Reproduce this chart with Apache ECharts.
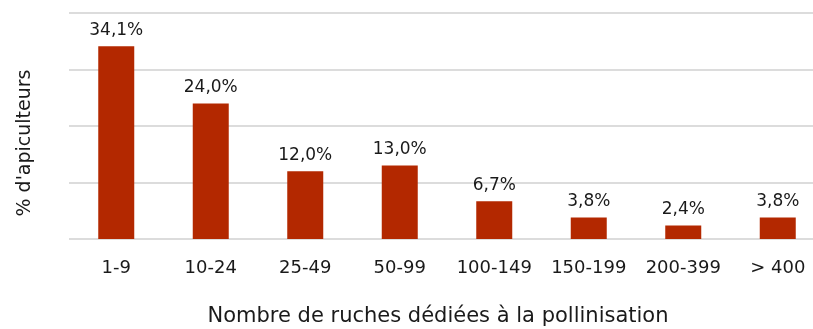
<!DOCTYPE html>
<html><head><meta charset="utf-8">
<script src="https://cdn.jsdelivr.net/npm/echarts@6/dist/echarts.min.js"></script>
<style>html,body{margin:0;padding:0;background:#fff;overflow:hidden}#c{width:813px;height:329px}</style>
</head><body><div id="c"></div>
<script>
const categories = ['1-9','10-24','25-49','50-99','100-149','150-199','200-399','> 400'];
const values = [34.1, 24.0, 12.0, 13.0, 6.7, 3.8, 2.4, 3.8];
const labels = ['34,1%','24,0%','12,0%','13,0%','6,7%','3,8%','2,4%','3,8%'];
const yTicks = [0, 10, 20, 30, 40];
const xTitle = 'Nombre de ruches dédiées à la pollinisation';
const yTitle = "% d'apiculteurs";

const font = 'DejaVu Sans';
const txt = '#1a1a1a';
const chart = echarts.init(document.getElementById('c'));
chart.setOption({
  animation: false,
  grid: {left: 69, top: 13, width: 756, height: 226, containLabel: false, outerBoundsMode: 'none'},
  xAxis: {
    type: 'category', data: categories,
    axisLine: {show: false}, axisTick: {show: false},
    axisLabel: {color: txt, fontFamily: font, fontSize: 18, margin: 20, interval: 0},
    name: xTitle, nameLocation: 'middle', nameGap: 67,
    nameTextStyle: {color: txt, fontFamily: font, fontSize: 21, padding: [0, 18, 0, 0]}
  },
  yAxis: {
    type: 'value', min: yTicks[0], max: yTicks[yTicks.length-1], interval: 10,
    axisLabel: {show: false}, axisLine: {show: false}, axisTick: {show: false},
    splitLine: {lineStyle: {color: '#dcdcdc', width: 2}},
    name: yTitle, nameLocation: 'middle', nameGap: 34,
    nameTextStyle: {color: txt, fontFamily: font, fontSize: 19, padding: [0, 34, 0, 0]}
  },
  series: [{
    type: 'bar', barWidth: 36,
    data: values.map((v, i) => ({value: v, label: {formatter: labels[i]}})),
    itemStyle: {color: '#b32800'},
    label: {show: true, position: 'top', distance: 7, color: txt, fontFamily: font, fontSize: 17}
  }]
});
</script></body></html>
